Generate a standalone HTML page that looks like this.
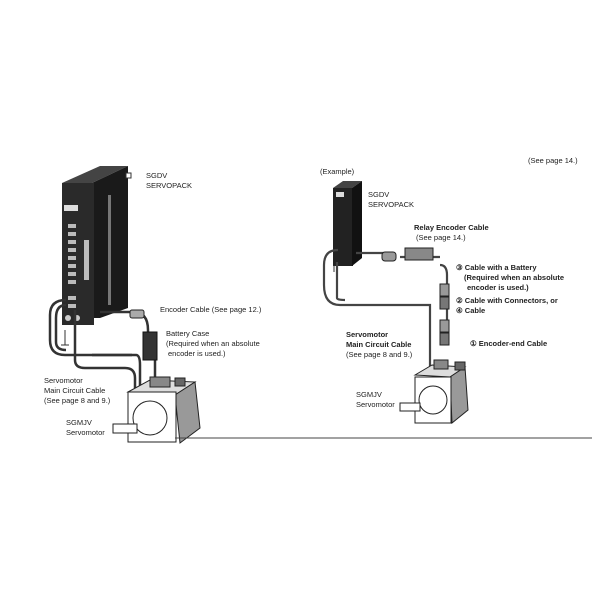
<!DOCTYPE html>
<html><head><style>
body{margin:0;background:#fff;}
svg text{font-family:"Liberation Sans",sans-serif;font-size:7.5px;fill:#222;}
.b{font-weight:bold;}
</style></head><body>
<svg width="600" height="600" viewBox="0 0 600 600">
<!-- LEFT SERVOPACK -->
<polygon points="62,183 100,166 128,166 92,183" fill="#444"/>
<polygon points="92,183 128,166 128,308 100,318 92,318" fill="#1a1a1a"/>
<rect x="108" y="195" width="3" height="110" fill="#777"/>
<rect x="62" y="183" width="32" height="142" fill="#2a2a2a"/>
<rect x="64" y="205" width="14" height="6" fill="#ddd"/>
<g fill="#bbb">
<rect x="68" y="224" width="8" height="4"/><rect x="68" y="232" width="8" height="4"/><rect x="68" y="240" width="8" height="4"/><rect x="68" y="248" width="8" height="4"/><rect x="68" y="256" width="8" height="4"/><rect x="68" y="264" width="8" height="4"/><rect x="68" y="272" width="8" height="4"/><rect x="68" y="280" width="8" height="4"/><rect x="68" y="296" width="8" height="4"/><rect x="68" y="304" width="8" height="4"/>
<rect x="84" y="240" width="5" height="40"/>
</g>
<circle cx="68" cy="318" r="3" fill="#ccc"/><circle cx="77" cy="318" r="3" fill="#ccc"/>
<rect x="126" y="173" width="5" height="5" fill="#fff" stroke="#333"/>
<!-- left cables -->
<g fill="none" stroke="#333" stroke-width="2.5">
<path d="M66,300 Q50,300 50,315 L50,340 Q50,355 65,355 L132,355"/>
<path d="M66,305 Q56,305 56,318 L56,342 Q56,350 66,350"/>
<path d="M75,310 L75,360 Q75,368 85,368 L125,368 Q135,368 135,378 L135,388"/>
<path d="M92,355 L136,355 Q140,355 140,365 L140,385 Q140,395 150,395"/>
<path d="M100,312 L133,312 Q148,312 148,330 L148,350"/>
<path d="M155,360 L155,392"/>
</g>
<line x1="65" y1="330" x2="65" y2="345" stroke="#333"/>
<line x1="61" y1="345" x2="69" y2="345" stroke="#333"/>
<rect x="130" y="310" width="14" height="8" rx="2" fill="#aaa" stroke="#222"/>
<rect x="143" y="332" width="14" height="28" fill="#333" stroke="#111"/>
<!-- left motor -->
<polygon points="128,392 150,380 195,382 175,395" fill="#ddd" stroke="#222"/>
<polygon points="175,395 195,382 200,428 180,443" fill="#999" stroke="#222"/>
<rect x="128" y="392" width="48" height="50" fill="#fff" stroke="#222"/>
<circle cx="150" cy="418" r="17" fill="#fff" stroke="#222"/>
<rect x="113" y="424" width="24" height="9" fill="#fff" stroke="#222"/>
<rect x="150" y="377" width="20" height="10" fill="#888" stroke="#222"/>
<rect x="175" y="378" width="10" height="8" fill="#666" stroke="#222"/>
<text x="146" y="178">SGDV</text><text x="146" y="188">SERVOPACK</text>
<text x="160" y="312">Encoder Cable (See page 12.)</text>
<text x="166" y="336">Battery Case</text>
<text x="166" y="346">(Required when an absolute</text>
<text x="168" y="356">encoder is used.)</text>
<text x="44" y="383">Servomotor</text>
<text x="44" y="393">Main Circuit Cable</text>
<text x="44" y="403">(See page 8 and 9.)</text>
<text x="66" y="425">SGMJV</text><text x="66" y="435">Servomotor</text>
<line x1="175" y1="438" x2="592" y2="438" stroke="#444" stroke-width="1"/>
<!-- RIGHT -->
<text x="528" y="163">(See page 14.)</text>
<text x="320" y="174">(Example)</text>
<polygon points="333,188 343,181 362,181 352,188" fill="#444"/>
<rect x="333" y="188" width="20" height="78" fill="#222"/>
<polygon points="352,188 362,181 362,258 352,266" fill="#111"/>
<rect x="336" y="192" width="8" height="5" fill="#ddd"/>
<g fill="none" stroke="#444" stroke-width="2.2">
<path d="M338,250 Q324,250 324,265 L324,285 Q324,305 340,305 L430,305 L430,370"/>
<path d="M337,262 L337,298 Q337,300 345,300"/>
<path d="M356,253 L385,253"/>
<path d="M440,265 Q447,265 447,275 L447,340"/>
<path d="M400,257 L440,257"/>
</g>
<line x1="334" y1="265" x2="334" y2="272" stroke="#333"/>
<rect x="382" y="252" width="14" height="9" rx="3" fill="#999" stroke="#222"/>
<rect x="405" y="248" width="28" height="12" fill="#888" stroke="#222"/>
<rect x="440" y="284" width="9" height="12" fill="#999" stroke="#222"/>
<rect x="440" y="297" width="9" height="12" fill="#777" stroke="#222"/>
<rect x="440" y="320" width="9" height="12" fill="#999" stroke="#222"/>
<rect x="440" y="333" width="9" height="12" fill="#777" stroke="#222"/>
<!-- right motor -->
<polygon points="415,375 432,365 465,367 450,377" fill="#ddd" stroke="#222"/>
<polygon points="450,377 465,367 468,410 452,423" fill="#999" stroke="#222"/>
<rect x="415" y="377" width="36" height="46" fill="#fff" stroke="#222"/>
<circle cx="433" cy="400" r="14" fill="#fff" stroke="#222"/>
<rect x="400" y="403" width="20" height="8" fill="#fff" stroke="#222"/>
<rect x="434" y="360" width="14" height="9" fill="#888" stroke="#222"/>
<rect x="455" y="362" width="10" height="8" fill="#666" stroke="#222"/>
<text x="368" y="197">SGDV</text><text x="368" y="207">SERVOPACK</text>
<text x="414" y="230" class="b">Relay Encoder Cable</text>
<text x="416" y="240">(See page 14.)</text>
<text x="456" y="270" class="b">③ Cable with a Battery</text>
<text x="464" y="280" class="b">(Required when an absolute</text>
<text x="467" y="290" class="b">encoder is used.)</text>
<text x="456" y="303" class="b">② Cable with Connectors, or</text>
<text x="456" y="313" class="b">④ Cable</text>
<text x="346" y="337" class="b">Servomotor</text>
<text x="346" y="347" class="b">Main Circuit Cable</text>
<text x="346" y="357">(See page 8 and 9.)</text>
<text x="470" y="346" class="b">① Encoder-end Cable</text>
<text x="356" y="397">SGMJV</text><text x="356" y="407">Servomotor</text>
</svg>
</body></html>
